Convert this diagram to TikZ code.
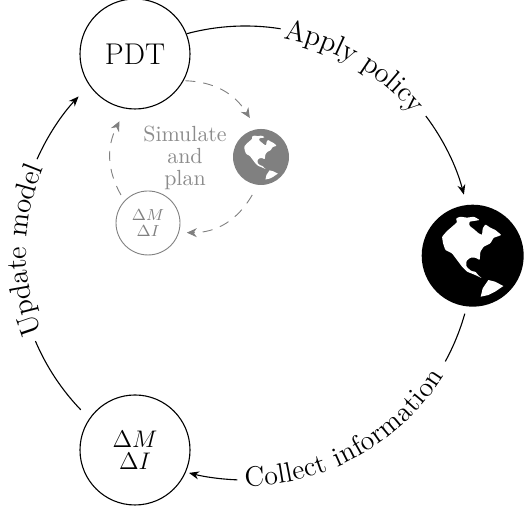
\documentclass[tikz,border=0pt]{standalone}
\usetikzlibrary{arrows.meta,calc,decorations.text}
\newcommand{\landshapes}{%
  \fill[white,rounded corners=0.4pt] (-92,57) -- (-77,74) -- (-62,87) -- (-47,100) -- (-50,112) -- (-37,117) -- (-17,114) -- (3,117) -- (13,112) -- (21,107) -- (3,104) -- (-10,102) -- (-10,90) -- (3,80) -- (18,67) -- (28,62) -- (30,82) -- (38,94) -- (53,84) -- (68,77) -- (86,62) -- (73,57) -- (63,54) -- (53,37) -- (33,27) -- (23,12) -- (21,-13) -- (8,-6) -- (-7,-6) -- (-19,-16) -- (-19,-33) -- (-4,-46) -- (8,-48) -- (18,-60) -- (28,-68) -- (8,-58) -- (-17,-48) -- (-32,-33) -- (-47,-13) -- (-62,7) -- (-82,17) -- (-89,37) -- cycle;
  \fill[white] (24,-123) -- (30,-98) -- (47,-73) -- (67,-78) -- (92,-91) -- (67,-108) -- (47,-118) -- cycle;
}
\tikzset{
  x=0.5pt, y=0.5pt,
  bigcirc/.style={draw=black, circle, line width=0.55pt, minimum size=55pt, inner sep=0pt, align=center},
  minicirc/.style={draw=black!50, circle, line width=0.45pt, minimum size=32pt, inner sep=0pt, align=center, text=black!50},
  earth/.style={circle, fill=black, minimum size=51pt, inner sep=0pt},
  miniearth/.style={circle, fill=black!50, minimum size=28pt, inner sep=0pt},
  mainarc/.style={line width=0.55pt, -{Stealth[length=5pt,width=4pt]}},
  plainarc/.style={line width=0.55pt},
  simarc/.style={line width=0.45pt, draw=black!50, dash pattern=on 5pt off 4pt, -{Stealth[length=5pt,width=4.5pt]}},
  arctext/.style={decorate, decoration={text along path, text align=center, raise=-3pt, text={#1}}},
}
\begin{document}
\begin{tikzpicture}
\useasboundingbox (0,0) rectangle (526,506);
\coordinate (C) at (245.3,254);
\node[bigcirc, font=\fontsize{15}{17}\selectfont] (pdt) at (135,452) {PDT};
\node[bigcirc, font=\fontsize{11.5}{11}\selectfont] (data) at (135,56) {$\Delta M$\\[0pt]$\Delta I$};
\node[earth] (world) at (472.7,250.3) {};
\begin{scope}[shift={(world)},x=0.1667pt,y=0.1667pt]\landshapes\end{scope}
\node[miniearth] (mworld) at (261,349) {};
\begin{scope}[shift={(mworld)},x=0.0915pt,y=0.0915pt]\landshapes\end{scope}
\node[minicirc, font=\fontsize{8.5}{8}\selectfont] (mdata) at (148,283) {$\Delta M$\\$\Delta I$};
\node[text=black!45, align=center, font=\fontsize{10.95}{10.8}\selectfont] (sim) at (185,348) {Simulate\\and\\plan};
% main cycle
\draw[plainarc] ($(C)+(105:226)$) arc[start angle=105,end angle=81,radius=226];
\path[arctext={|\fontsize{14.4}{17}\selectfont|Apply policy}] ($(C)+(80.5:223)$) arc[start angle=80.5,end angle=38.5,radius=223];
\draw[mainarc] ($(C)+(37:226)$) arc[start angle=37,end angle=14.7,radius=226];
\draw[plainarc] ($(C)+(-15.7:228)$) arc[start angle=-15.7,end angle=-28.7,radius=228];
\path[arctext={|\fontsize{14}{17}\selectfont|Collect information}] ($(C)+(267:228)$) arc[start angle=267,end angle=331,radius=228];
\draw[mainarc] ($(C)+(268:228)$) arc[start angle=268,end angle=255.7,radius=228];
\draw[plainarc] ($(C)+(223.8:228)$) arc[start angle=223.8,end angle=203,radius=228];
\path[arctext={|\fontsize{14.4}{17}\selectfont|Update model}] ($(C)+(204:225)$) arc[start angle=204,end angle=155,radius=225];
\draw[mainarc] ($(C)+(156:228)$) arc[start angle=156,end angle=137,radius=228];
% simulated cycle
\draw[simarc] ($(pdt)+(-28:57)$) to[bend left=28] ($(mworld)+(106:40.5)$);
\draw[simarc] ($(mworld)+(257:39)$) to[bend left=30] ($(mdata)+(-14:40)$);
\draw[simarc] ($(mdata)+(134:39)$) to[bend left=28] ($(pdt)+(257:69)$);
\end{tikzpicture}
\end{document}
